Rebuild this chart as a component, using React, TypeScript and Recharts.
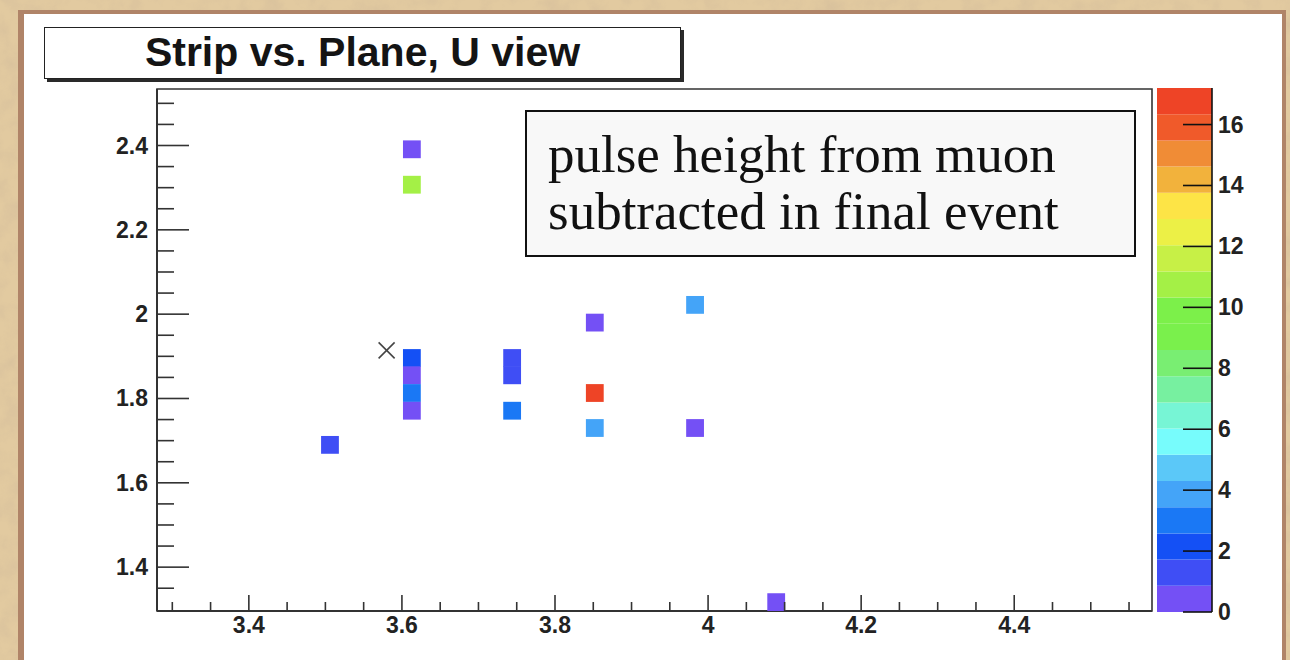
import { ScatterChart, Scatter, XAxis, YAxis, ReferenceArea, BarChart, Bar } from "recharts";

// axis ranges of the strip/plane histogram
const PLANE_MIN = 3.28;
const PLANE_MAX = 4.58;
const STRIP_MIN = 1.296;
const STRIP_MAX = 2.534;
const PULSE_MAX = 17.2;

const PLANE_MAJOR = [3.4, 3.6, 3.8, 4, 4.2, 4.4];
const PLANE_MINOR = [3.3, 3.35, 3.45, 3.5, 3.55, 3.65, 3.7, 3.75, 3.85, 3.9, 3.95, 4.05, 4.1, 4.15, 4.25, 4.3, 4.35, 4.45, 4.5, 4.55];
const STRIP_MAJOR = [1.4, 1.6, 1.8, 2, 2.2, 2.4];
const STRIP_MINOR = [1.35, 1.45, 1.5, 1.55, 1.65, 1.7, 1.75, 1.85, 1.9, 1.95, 2.05, 2.1, 2.15, 2.25, 2.3, 2.35, 2.45, 2.5];
const PULSE_TICKS = [0, 2, 4, 6, 8, 10, 12, 14, 16];

// filled bins: plane (x), strip (y), pulse height (z)
const CELL_PLANE = [3.506, 3.613, 3.613, 3.613, 3.613, 3.613, 3.613, 3.744, 3.744, 3.744, 3.852, 3.852, 3.852, 3.983, 3.983, 4.089];
const CELL_STRIP = [1.69, 2.391, 2.307, 1.896, 1.855, 1.813, 1.771, 1.896, 1.855, 1.771, 1.98, 1.813, 1.73, 2.022, 1.73, 1.317];
const CELL_PULSE = [1.3, 0.5, 10.8, 2.2, 0.6, 3.0, 0.4, 1.2, 1.4, 3.1, 0.5, 17.2, 3.9, 4.0, 0.7, 0.5];

// fitted muon position
const MUON_PLANE = [3.58];
const MUON_STRIP = [1.914];

// 20-level colour palette, low to high
const PALETTE = [
  "#7450f5", "#3f4ef5", "#1450f5", "#1a78f5", "#44a4f8",
  "#5bc8f8", "#77fcfc", "#77f5d5", "#77f0a0", "#79ee72",
  "#7af04c", "#7cf04a", "#a4f046", "#c7f046", "#ecf046",
  "#fde446", "#f2b23c", "#f08c36", "#f05a2a", "#ee4426",
];

const cells = CELL_PLANE.map((plane, i) => ({ plane, strip: CELL_STRIP[i], pulse: CELL_PULSE[i] }));
const muon = MUON_PLANE.map((plane, i) => ({ plane, strip: MUON_STRIP[i] }));

const bandStep = PULSE_MAX / PALETTE.length;
const paletteRow: Record<string, number | string> = { name: "pulse" };
PALETTE.forEach((_, i) => {
  paletteRow[`b${i}`] = bandStep;
});

const pulseColour = (z: number) =>
  PALETTE[Math.min(PALETTE.length - 1, Math.floor((z / PULSE_MAX) * PALETTE.length))];

const LABEL_FONT = '"Liberation Sans", Arial, Helvetica, sans-serif';
const LABEL_SIZE = 23;
const CELL_PX = 17.8;

// main frame layout
const MARGIN = { top: 89, right: 138, bottom: 19, left: 97 };
const Y_AXIS_WIDTH = 60;
const FRAME_LEFT = MARGIN.left + Y_AXIS_WIDTH;

function PlaneTick(props: any) {
  const { x, y, payload } = props;
  const major = PLANE_MAJOR.includes(payload.value);
  return (
    <g>
      <line x1={x} x2={x} y1={y} y2={y - (major ? 16 : 9)} stroke="#333" strokeWidth={1.6} />
      {major && (
        <text x={x} y={y + 22} textAnchor="middle" fontFamily={LABEL_FONT} fontWeight="bold" fontSize={LABEL_SIZE} fill="#222">
          {String(payload.value)}
        </text>
      )}
    </g>
  );
}

function StripTick(props: any) {
  const { y, payload } = props;
  const major = STRIP_MAJOR.includes(payload.value);
  return (
    <g>
      <line x1={FRAME_LEFT} x2={FRAME_LEFT + (major ? 32 : 17)} y1={y} y2={y} stroke="#333" strokeWidth={1.6} />
      {major && (
        <text x={FRAME_LEFT - 9} y={y + 8} textAnchor="end" fontFamily={LABEL_FONT} fontWeight="bold" fontSize={LABEL_SIZE} fill="#222">
          {String(payload.value)}
        </text>
      )}
    </g>
  );
}

function PulseTick(props: any) {
  const { x, y, payload } = props;
  return (
    <g>
      <line x1={x - 29} x2={x} y1={y} y2={y} stroke="#111" strokeWidth={1.6} />
      <text x={x + 6} y={y + 8} textAnchor="start" fontFamily={LABEL_FONT} fontWeight="bold" fontSize={LABEL_SIZE} fill="#222">
        {String(payload.value)}
      </text>
    </g>
  );
}

function Cell(props: any) {
  const { cx, cy, payload } = props;
  return (
    <rect x={cx - CELL_PX / 2} y={cy - CELL_PX / 2} width={CELL_PX} height={CELL_PX} fill={pulseColour(payload.pulse)} />
  );
}

function Cross(props: any) {
  const { cx, cy } = props;
  const r = 8;
  return (
    <g stroke="#444" strokeWidth={1.6}>
      <line x1={cx - r} y1={cy - r} x2={cx + r} y2={cy + r} />
      <line x1={cx - r} y1={cy + r} x2={cx + r} y2={cy - r} />
    </g>
  );
}

function PaperTexture() {
  return (
    <svg width={1290} height={660} style={{ position: "absolute", left: 0, top: 0 }}>
      <defs>
        <filter id="paper" x="0" y="0" width="100%" height="100%">
          <feTurbulence type="fractalNoise" baseFrequency="0.05" numOctaves={4} seed={7} />
          <feColorMatrix type="matrix" values="0 0 0 0 0.62  0 0 0 0 0.48  0 0 0 0 0.32  0 0 0 1.6 -0.6" />
        </filter>
      </defs>
      <rect width={1290} height={660} fill="#e2caa0" />
      <rect width={1290} height={660} filter="url(#paper)" opacity={0.5} />
    </svg>
  );
}

export default function App() {
  return (
    <div style={{ position: "absolute", left: 0, top: 0, width: 1290, height: 660, overflow: "hidden" }}>
      <PaperTexture />
      <div
        style={{
          position: "absolute",
          left: 18,
          top: 10,
          width: 1258,
          height: 700,
          background: "#ffffff",
          borderStyle: "solid",
          borderColor: "#b08468",
          borderWidth: "4px 4px 0 6px",
        }}
      />

      <div style={{ position: "absolute", left: 0, top: 0 }}>
        <ScatterChart width={1290} height={660} margin={MARGIN}>
          <XAxis
            type="number"
            dataKey="plane"
            domain={[PLANE_MIN, PLANE_MAX]}
            ticks={[...PLANE_MAJOR, ...PLANE_MINOR].sort((a, b) => a - b)}
            interval={0}
            allowDataOverflow
            height={30}
            tickSize={0}
            tickMargin={0}
            tickLine={false}
            axisLine={{ stroke: "#333", strokeWidth: 2 }}
            tick={PlaneTick}
          />
          <YAxis
            type="number"
            dataKey="strip"
            domain={[STRIP_MIN, STRIP_MAX]}
            ticks={[...STRIP_MAJOR, ...STRIP_MINOR].sort((a, b) => a - b)}
            interval={0}
            allowDataOverflow
            width={Y_AXIS_WIDTH}
            tickSize={0}
            tickMargin={0}
            tickLine={false}
            axisLine={{ stroke: "#333", strokeWidth: 2 }}
            tick={StripTick}
          />
          <Scatter data={cells} shape={Cell} isAnimationActive={false} />
          <Scatter data={muon} shape={Cross} isAnimationActive={false} />
          <ReferenceArea
            x1={PLANE_MIN}
            x2={PLANE_MAX}
            y1={STRIP_MIN}
            y2={STRIP_MAX}
            fill="none"
            stroke="#333"
            strokeWidth={1.6}
            ifOverflow="visible"
          />
        </ScatterChart>
      </div>

      {/* colour scale for the pulse height */}
      <div style={{ position: "absolute", left: 1157, top: 0 }}>
        <BarChart
          width={125}
          height={660}
          data={[paletteRow]}
          margin={{ top: 88, right: 0, bottom: 48, left: 0 }}
          barCategoryGap={0}
          barGap={0}
        >
          <XAxis dataKey="name" hide />
          <YAxis
            type="number"
            orientation="right"
            domain={[0, PULSE_MAX]}
            ticks={PULSE_TICKS}
            interval={0}
            allowDataOverflow
            width={70}
            tickSize={0}
            tickMargin={0}
            tickLine={false}
            axisLine={{ stroke: "#111", strokeWidth: 1.6 }}
            tick={PulseTick}
          />
          {PALETTE.map((colour, i) => (
            <Bar key={i} dataKey={`b${i}`} stackId="z" fill={colour} isAnimationActive={false} />
          ))}
        </BarChart>
      </div>

      {/* histogram title */}
      <div
        style={{
          position: "absolute",
          left: 44,
          top: 27,
          width: 635,
          height: 50,
          border: "1.5px solid #222",
          background: "#fff",
          boxShadow: "3px 3px 0 #2a2a2a",
          fontFamily: LABEL_FONT,
          fontWeight: "bold",
          fontSize: 41,
          lineHeight: "49px",
          textAlign: "center",
          color: "#141414",
          whiteSpace: "nowrap",
        }}
      >
        Strip vs. Plane, U view
      </div>

      {/* annotation */}
      <div
        style={{
          position: "absolute",
          left: 525,
          top: 110,
          width: 611,
          height: 147,
          border: "2px solid #111",
          background: "#f8f8f8",
          fontFamily: '"Liberation Serif", "Times New Roman", serif',
          fontSize: 53,
          lineHeight: "56.6px",
          color: "#111",
          paddingLeft: 21,
          paddingTop: 14,
          boxSizing: "border-box",
          whiteSpace: "nowrap",
        }}
      >
        <div>pulse height from muon</div>
        <div>subtracted in final event</div>
      </div>
    </div>
  );
}
